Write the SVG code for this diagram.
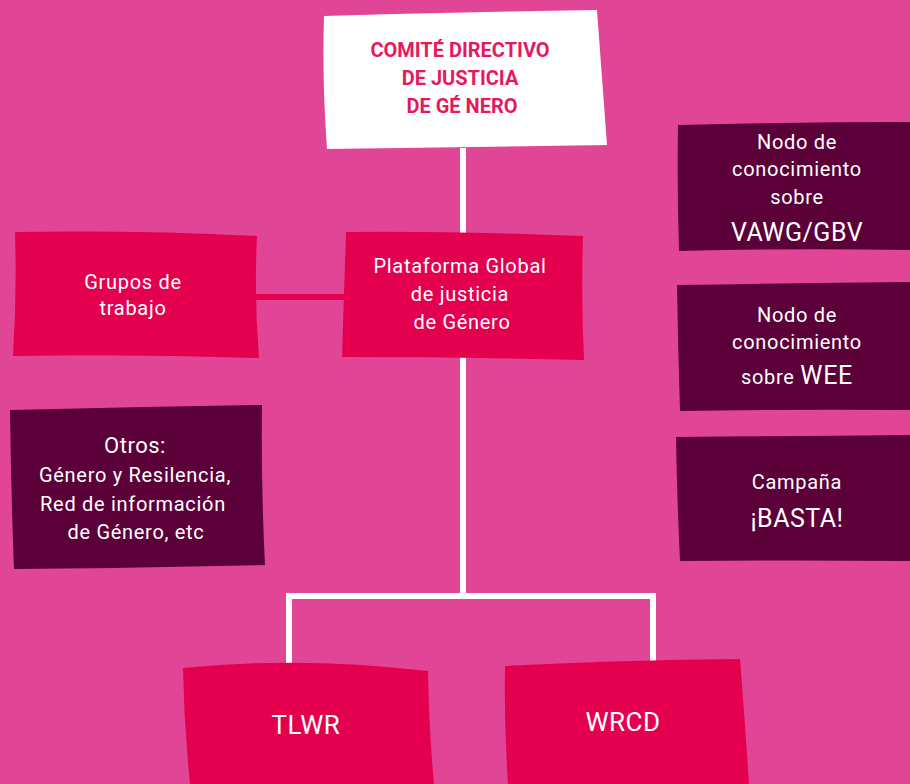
<svg xmlns="http://www.w3.org/2000/svg" width="910" height="784" viewBox="0 0 910 784">
<style>
.bg{fill:#E14595}
.red{fill:#E4004F}
.dark{fill:#5B0039}
.wht{fill:#FFFFFF}
.t{font-family:Roboto,"Liberation Sans",sans-serif;fill:#FFFFFF;text-anchor:middle}
.s{font-size:20px;letter-spacing:0.7px}
.l{font-size:25px;letter-spacing:0.5px}
.title{font-family:Roboto,"Liberation Sans",sans-serif;font-weight:bold;font-size:20px;fill:#E5195E;text-anchor:middle}
.ln{stroke:#FFFFFF;stroke-width:6;fill:none}
.ln2{stroke:#E4004F;stroke-width:6;fill:none}
</style>
<rect class="bg" x="0" y="0" width="910" height="784"/>
<g id="connectors">
<path class="ln" d="M463 148 V596"/>
<path class="ln" d="M289 666 V596 H653 V666"/>
<path class="ln2" d="M256 297 H347"/>
</g>
<g id="comite">
<path class="wht" d="M324 16 Q460 12 597 10 Q602 78 607 145 Q467 147 327 149 Q322 80 324 16 Z"/>
<text class="title" x="460" y="57">COMITÉ DIRECTIVO</text>
<text class="title" x="460" y="85">DE JUSTICIA</text>
<text class="title" x="462" y="113">DE GÉ NERO</text>
</g>
<g id="grupos">
<path class="red" d="M15 232 Q135 230 257 236 Q254 297 259 358 Q135 354 13 356 Q17 293 15 232 Z"/>
<text class="t s" x="133" y="289">Grupos de</text>
<text class="t s" x="133" y="315">trabajo</text>
</g>
<g id="plataforma">
<path class="red" d="M346 232 Q465 231 583 236 Q581 298 584 360 Q462 357 342 357 Q344 294 346 232 Z"/>
<text class="t s" x="460" y="273">Plataforma Global</text>
<text class="t s" x="460" y="301">de justicia</text>
<text class="t s" x="462" y="329">de Género</text>
</g>
<g id="otros">
<path class="dark" d="M10 410 Q136 407 262 405 Q261 485 265 565 Q138 568 14 569 Q11 490 10 410 Z"/>
<text class="t" style="font-size:22px;letter-spacing:0.5px" x="135" y="453">Otros:</text>
<text class="t s" x="135" y="482">Género y Resilencia,</text>
<text class="t s" x="133" y="511">Red de información</text>
<text class="t s" x="136" y="539">de Género, etc</text>
</g>
<g id="vawg">
<path class="dark" d="M678 125 Q795 122 910 122 V250 Q795 248 679 251 Q677 188 678 125 Z"/>
<text class="t s" x="797" y="149">Nodo de</text>
<text class="t s" x="797" y="176">conocimiento</text>
<text class="t s" x="797" y="204">sobre</text>
<text class="t l" x="797" y="241">VAWG/GBV</text>
</g>
<g id="wee">
<path class="dark" d="M677 285 Q795 283 910 282 V410 Q795 409 680 411 Q678 348 677 285 Z"/>
<text class="t s" x="797" y="322">Nodo de</text>
<text class="t s" x="797" y="349">conocimiento</text>
<text class="t s" x="797" y="384"><tspan>sobre </tspan><tspan style="font-size:25px">WEE</tspan></text>
</g>
<g id="basta">
<path class="dark" d="M676 437 Q795 436 910 435 V561 Q795 560 680 561 Q677 499 676 437 Z"/>
<text class="t s" x="797" y="489">Campaña</text>
<text class="t l" x="797" y="527">¡BASTA!</text>
</g>
<g id="tlwr">
<path class="red" d="M183 668 Q300 656 428 671 Q429 730 434 784 H190 Q184 726 183 668 Z"/>
<text class="t" style="font-size:26px;letter-spacing:0.5px" x="306" y="734">TLWR</text>
</g>
<g id="wrcd">
<path class="red" d="M505 666 Q620 660 740 659 Q745 722 749 784 H508 Q504 725 505 666 Z"/>
<text class="t" style="font-size:26px;letter-spacing:0.5px" x="623" y="731">WRCD</text>
</g>
</svg>
